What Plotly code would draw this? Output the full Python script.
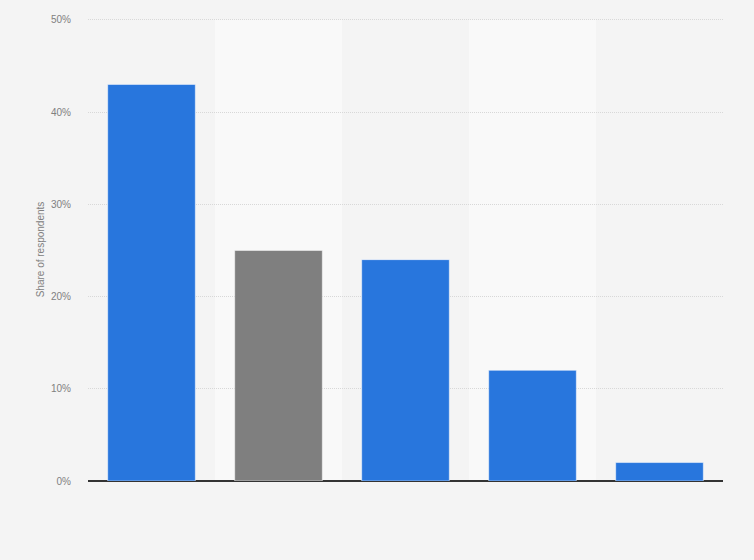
import plotly.graph_objects as go

# categories have no visible labels in the chart
categories = ["A", "B", "C", "D", "E"]
shares = [43, 25, 24, 12, 2]
bar_colors = ["#2876dd", "#7f7f7f", "#2876dd", "#2876dd", "#2876dd"]
y_ticks = [0, 10, 20, 30, 40, 50]
y_tick_labels = ["0%", "10%", "20%", "30%", "40%", "50%"]

fig = go.Figure()
fig.add_trace(go.Bar(
    x=categories,
    y=shares,
    marker=dict(color=bar_colors, line=dict(color="rgba(255,255,255,0.5)", width=1)),
    hoverinfo="x+y",
))

# lighter bands behind every second category
for i in (1, 3):
    fig.add_shape(
        type="rect", xref="x", yref="y",
        x0=i - 0.5, x1=i + 0.5, y0=0, y1=50,
        fillcolor="#f9f9f9", line=dict(width=0), layer="below",
    )

fig.update_layout(
    width=754,
    height=560,
    margin=dict(l=88, r=31, t=18, b=79),
    paper_bgcolor="#f4f4f4",
    plot_bgcolor="#f4f4f4",
    bargap=0.31,
    showlegend=False,
    font=dict(family="Liberation Sans, Arial, sans-serif", size=10, color="#808080"),
)
fig.update_xaxes(
    showticklabels=False,
    showgrid=False,
    ticks="",
    showline=False,
    zeroline=False,
)
fig.update_yaxes(
    range=[0, 50.2],
    tickvals=y_ticks,
    ticktext=y_tick_labels,
    showgrid=True,
    gridcolor="#d8d8d8",
    griddash="1px,1px",
    gridwidth=1,
    zeroline=True,
    zerolinecolor="#333333",
    zerolinewidth=1.5,
    ticks="",
    ticklabelstandoff=16,
    title=dict(text="Share of respondents", font=dict(size=10, color="#808080"), standoff=4),
)

fig.write_html(
    "out.html",
    config={"displayModeBar": False},
    post_script="document.body.style.margin='0';",
)
